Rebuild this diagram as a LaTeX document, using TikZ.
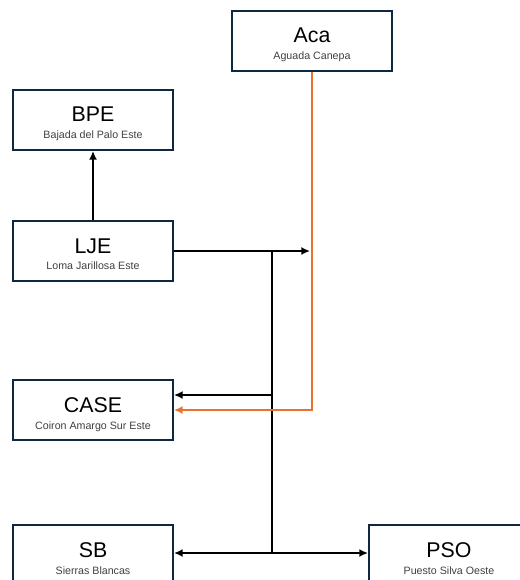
\documentclass[tikz,border=0pt]{standalone}
\usepackage{fontspec}
\setmainfont{Liberation Sans}
\usetikzlibrary{arrows.meta,calc}

\definecolor{boxline}{HTML}{0E2841}
\definecolor{feed}{HTML}{E97132}

\tikzset{
  site/.style={draw=boxline, line width=1.5pt, fill=white,
    minimum width=120pt, minimum height=45pt, inner sep=0pt},
  sitecode/.style={anchor=base, inner sep=0pt, font=\fontsize{16}{18}\selectfont},
  sitename/.style={anchor=base, inner sep=0pt, font=\fontsize{8}{10}\selectfont, text=black!75},
  flow/.style={line width=1.5pt, draw=black},
  flowarrow/.style={flow, -{Latex[length=6.5pt,width=6pt]}},
  feedarrow/.style={line width=1.4pt, draw=feed, -{Latex[length=6.5pt,width=6pt]}}
}

\begin{document}
\begin{tikzpicture}[x=0.75pt, y=-0.75pt]
  \useasboundingbox (0,0) rectangle (519,580);

  % sites
  \node[site] (aca)  at (312,41)  {};
  \node[site] (bpe)  at (93,120)  {};
  \node[site] (lje)  at (93,251)  {};
  \node[site] (case) at (93,410)  {};
  \node[site] (sb)   at (93,555)  {};
  \node[site] (pso)  at (449,555) {};

  % codes and full names
  \foreach \n/\c/\t in {aca/Aca/Aguada Canepa, bpe/BPE/Bajada del Palo Este,
                        lje/LJE/Loma Jarillosa Este, case/CASE/Coiron Amargo Sur Este,
                        sb/SB/Sierras Blancas, pso/PSO/Puesto Silva Oeste}{
    \node[sitecode] (\n-code) at ($(\n.center)+(0,2)$) {\c};
    \node[sitename] (\n-name) at ($(\n.center)+(0,19)$) {\t};
  }

  % junction points on the trunk line
  \coordinate (trunkTop) at (272,251);
  \coordinate (trunkCase) at (272,395);
  \coordinate (trunkBot) at (272,553);
  \coordinate (ljeTip) at (310,251);

  % black flow lines
  \draw[flowarrow] (lje.north) -- (bpe.south);
  \draw[flowarrow] (lje.east) -- (ljeTip);
  \draw[flow] (trunkTop) -- (trunkBot);
  \draw[flowarrow] (trunkCase) -- (trunkCase -| case.east);
  \draw[flowarrow] (trunkBot) -- (trunkBot -| sb.east);
  \draw[flowarrow] (trunkBot) -- (trunkBot -| pso.west);

  % orange line from Aca
  \draw[feedarrow] (aca.south) -- (aca.south |- case.east) -- (case.east);
\end{tikzpicture}
\end{document}
